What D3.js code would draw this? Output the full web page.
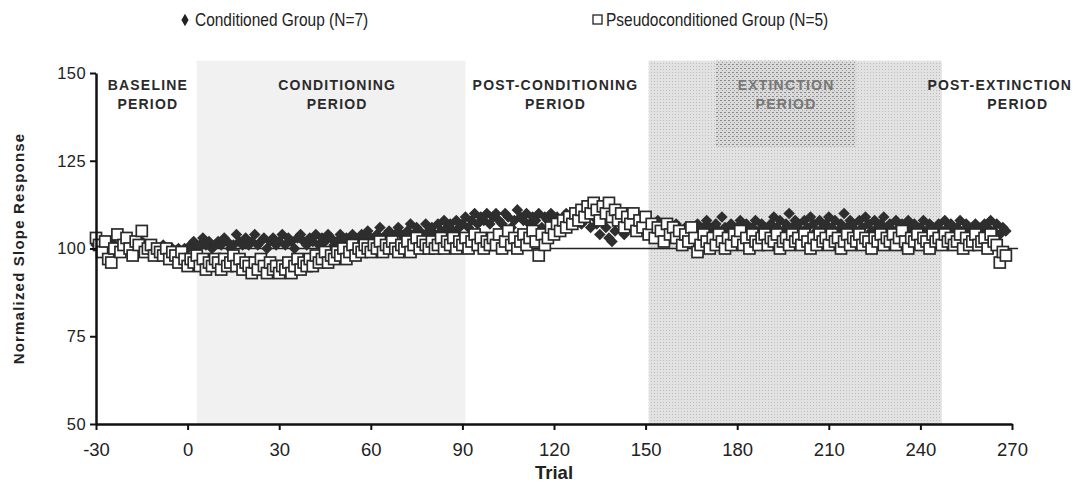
<!DOCTYPE html>
<html>
<head>
<meta charset="utf-8">
<script src="https://cdn.jsdelivr.net/npm/d3@7"></script>
<style>
  body { margin: 0; background: #fff; }
  text { font-family: "Liberation Sans", Arial, sans-serif; fill: #222; }
</style>
</head>
<body>
<div id="chart"></div>
<script>
const firstTrial = -30;

// Conditioned Group (N=7), one value per trial from -30
const conditioned = [
  101,102,100,101,99,102,101,100,101,100,
  101,100,99,101,100,102,100,99,100,101,
  100,99,101,100,99,100,98,100,99,100,
  100,101,102,100,101,103,101,102,100,101,
  102,101,103,102,100,101,104,102,101,103,
  101,102,104,101,102,103,100,102,103,101,
  102,104,101,103,102,100,103,104,102,101,
  103,102,104,101,103,102,104,103,101,102,
  104,102,103,101,104,103,102,104,103,105,
  103,102,104,106,103,104,105,103,104,106,
  104,103,105,107,104,106,105,104,107,105,
  106,104,107,105,108,106,107,105,108,106,
  107,109,106,108,110,107,109,108,110,107,
  109,110,108,107,110,109,106,108,111,109,
  108,110,107,109,108,110,106,109,108,110,
  107,109,108,106,110,107,109,108,111,107,
  108,110,106,109,107,104,108,106,103,102,
  105,108,107,104,109,106,108,105,107,106,
  105,107,104,106,108,103,105,107,104,106,
  107,105,103,106,104,102,105,107,104,106,
  108,106,104,107,105,109,106,104,107,105,
  106,108,105,107,104,106,108,105,107,106,
  105,107,109,106,108,105,107,110,106,108,
  107,105,108,106,109,107,105,108,106,107,
  109,106,108,105,107,110,106,108,107,105,
  108,106,109,107,105,108,106,107,109,106,
  107,105,108,106,107,105,108,106,107,105,
  106,108,105,107,106,104,107,105,108,106,
  107,105,106,108,105,107,106,104,107,106,
  105,107,106,108,105,107,104,106,105
];

// Pseudoconditioned Group (N=5)
const pseudo = [
  103,101,99,102,97,96,100,104,99,101,
  103,100,98,102,101,105,99,100,101,98,
  100,99,98,100,97,99,98,96,99,97,
  95,97,96,98,95,97,94,96,95,97,
  96,94,97,95,96,98,95,97,94,96,
  95,93,96,94,97,95,93,96,94,95,
  93,95,94,96,93,95,97,94,96,95,
  97,95,98,96,97,99,96,98,97,99,
  98,100,97,99,101,98,100,99,101,100,
  99,101,100,102,99,101,100,102,100,99,
  101,100,102,99,101,103,100,102,101,100,
  102,100,101,103,100,102,101,103,100,102,
  101,103,100,102,104,101,103,100,102,101,
  103,101,104,100,102,105,101,103,100,102,
  104,101,103,105,102,98,104,101,103,106,
  104,107,105,108,106,109,107,110,108,111,
  109,112,110,113,111,108,112,110,113,109,
  111,108,110,106,109,107,110,105,108,106,
  109,104,107,103,106,105,102,107,104,106,
  103,105,101,104,102,106,103,99,101,104,
  102,100,103,101,104,102,100,103,101,104,
  102,105,101,103,100,104,102,101,103,104,
  101,103,102,104,100,102,103,101,104,102,
  103,101,104,102,100,103,101,104,102,103,
  101,104,102,103,100,102,104,101,103,102,
  104,101,103,102,100,103,102,104,101,103,
  102,104,101,103,105,102,100,103,102,104,
  101,103,102,100,104,102,103,101,104,102,
  103,101,102,104,100,103,101,102,104,101,
  102,103,100,104,102,101,96,99,98
];

const xTicks = [-30, 0, 30, 60, 90, 120, 150, 180, 210, 240, 270];
const yTicks = [50, 75, 100, 125, 150];

const periodNames = [
  ["BASELINE", "PERIOD"],
  ["CONDITIONING", "PERIOD"],
  ["POST-CONDITIONING", "PERIOD"],
  ["EXTINCTION", "PERIOD"],
  ["POST-EXTINCTION", "PERIOD"]
];
const periodCenters = [-13, 49, 120.5, 196, 266];

const legendNames = ["Conditioned Group (N=7)", "Pseudoconditioned Group (N=5)"];

const W = 1083, H = 501;
const svg = d3.select("#chart").append("svg")
  .attr("width", W).attr("height", H);

const x = d3.scaleLinear().domain([-30, 270]).range([96, 1012]);
const y = d3.scaleLinear().domain([50, 150]).range([424, 73]);

// patterns for shaded periods
const defs = svg.append("defs");
let p1 = defs.append("pattern").attr("id", "ext").attr("width", 3).attr("height", 3)
  .attr("patternUnits", "userSpaceOnUse");
p1.append("rect").attr("width", 3).attr("height", 3).attr("fill", "#e2e2e2");
p1.append("rect").attr("width", 1).attr("height", 1).attr("fill", "#bcbcbc");
let p2 = defs.append("pattern").attr("id", "extdark").attr("width", 4).attr("height", 4)
  .attr("patternUnits", "userSpaceOnUse");
p2.append("rect").attr("width", 4).attr("height", 4).attr("fill", "#dadada");
p2.append("rect").attr("width", 2).attr("height", 1).attr("fill", "#8a8a8a");
p2.append("rect").attr("x", 2).attr("y", 2).attr("width", 1).attr("height", 1).attr("fill", "#a0a0a0");

// shaded periods
svg.append("rect")
  .attr("x", x(3)).attr("y", y(153.5))
  .attr("width", x(91) - x(3)).attr("height", y(50) - y(153.5))
  .attr("fill", "#f1f1f1");
svg.append("rect")
  .attr("x", x(151)).attr("y", y(153.5))
  .attr("width", x(247) - x(151)).attr("height", y(50) - y(153.5))
  .attr("fill", "url(#ext)");
svg.append("rect")
  .attr("x", x(173)).attr("y", y(153.5))
  .attr("width", x(219) - x(173)).attr("height", y(129) - y(153.5))
  .attr("fill", "url(#extdark)");

// period labels
periodNames.forEach((lines, i) => {
  let t = svg.append("text")
    .attr("text-anchor", "middle")
    .style("font-size", "14px")
    .style("letter-spacing", "1.2px")
    .style("font-weight", "bold")
    .style("fill", i == 3 ? "#777" : "#2a2a2a");
  lines.forEach((ln, j) => {
    t.append("tspan")
      .attr("x", x(periodCenters[i]) + (i == 4 && j == 1 ? 18 : 0))
      .attr("y", 90 + j * 19)
      .text(ln);
  });
});

// reference line at 100
svg.append("line")
  .attr("x1", x(-30)).attr("x2", x(272))
  .attr("y1", y(100)).attr("y2", y(100))
  .attr("stroke", "#222").attr("stroke-width", 1.5);

const diamond = d3.symbol().type(d3.symbolDiamond2).size(85);

svg.append("g")
  .selectAll("path")
  .data(conditioned)
  .enter()
  .append("path")
  .attr("d", diamond)
  .attr("transform", (d, i) => "translate(" + x(firstTrial + i) + "," + y(d) + ")")
  .attr("fill", "#2e2e2e");

svg.append("g")
  .selectAll("rect")
  .data(pseudo)
  .enter()
  .append("rect")
  .attr("x", (d, i) => x(firstTrial + i) - 5.5)
  .attr("y", d => y(d) - 5.5)
  .attr("width", 11).attr("height", 11)
  .attr("fill", "#fff")
  .attr("stroke", "#2a2a2a")
  .attr("stroke-width", 1.7);

// axes
let xAxis = svg.append("g")
  .attr("transform", "translate(0," + y(50) + ")")
  .call(d3.axisBottom(x).tickValues(xTicks).tickFormat(d => String(d))
    .tickSize(6).tickPadding(13).tickSizeOuter(0));
let yAxis = svg.append("g")
  .attr("transform", "translate(" + x(-30) + ",0)")
  .call(d3.axisLeft(y).tickValues(yTicks).tickFormat(d => String(d))
    .tickSize(6).tickPadding(4).tickSizeOuter(0));
[xAxis, yAxis].forEach(g => {
  g.select(".domain").attr("stroke", "#111").attr("stroke-width", 2.5);
  g.selectAll(".tick line").attr("stroke", "#111").attr("stroke-width", 2);
  g.selectAll(".tick text")
    .style("font-family", "'Liberation Sans', Arial, sans-serif")
    .attr("fill", "#222");
});
xAxis.selectAll(".tick text").style("font-size", "18.5px");
yAxis.selectAll(".tick text").style("font-size", "16.5px").style("letter-spacing", "0.4px");

svg.append("text")
  .attr("x", x(120)).attr("y", 479)
  .attr("text-anchor", "middle")
  .style("font-size", "18.5px").style("font-weight", "bold")
  .text("Trial");

svg.append("text")
  .attr("transform", "rotate(-90)")
  .attr("x", -y(100)).attr("y", 24)
  .attr("text-anchor", "middle")
  .style("font-size", "15px").style("letter-spacing", "1.2px").style("font-weight", "bold")
  .text("Normalized Slope Response");

// legend (narrowed text like the original)
let lg = svg.append("g");
lg.append("path").attr("d", d3.symbol().type(d3.symbolDiamond).size(45))
  .attr("transform", "translate(185,20)").attr("fill", "#222");
lg.append("text").attr("transform", "translate(195,26) scale(0.86,1)")
  .style("font-size", "18px").text(legendNames[0]);
lg.append("rect").attr("x", 593).attr("y", 15).attr("width", 9).attr("height", 9)
  .attr("fill", "#fff").attr("stroke", "#222").attr("stroke-width", 1.3);
lg.append("text").attr("transform", "translate(606,26) scale(0.86,1)")
  .style("font-size", "18px").text(legendNames[1]);
</script>
</body>
</html>
